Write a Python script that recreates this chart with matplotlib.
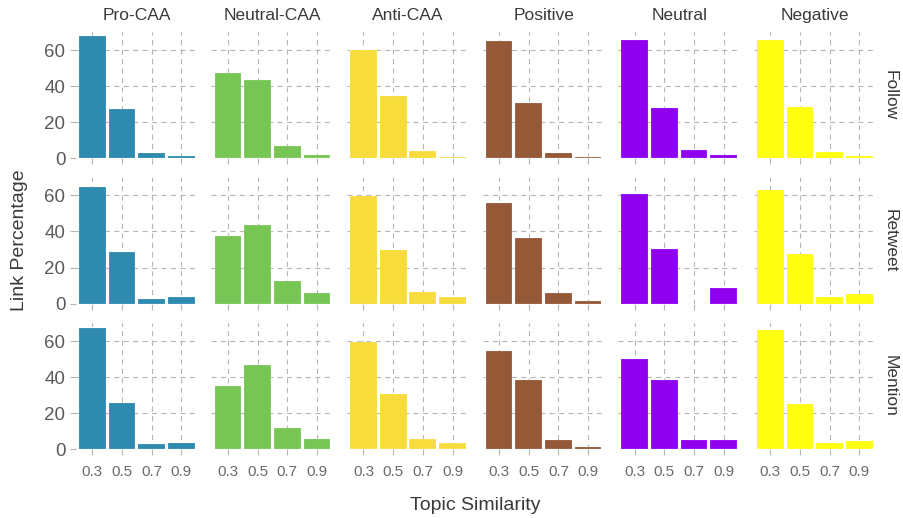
import matplotlib
matplotlib.use("Agg")
import matplotlib.pyplot as plt
import numpy as np

categories = ['Pro-CAA', 'Neutral-CAA', 'Anti-CAA', 'Positive', 'Neutral', 'Negative']
link_types = ['Follow', 'Retweet', 'Mention']
similarity_labels = ['0.3', '0.5', '0.7', '0.9']
colors = ['#2E8AAE', '#77C655', '#F7DC3B', '#955938', '#8F00EF', '#FFFD10']

follow = [
    [68.0, 27.3, 3.1, 1.3],
    [47.4, 43.4, 6.8, 1.8],
    [60.2, 34.5, 4.2, 0.8],
    [65.0, 30.8, 2.9, 0.8],
    [65.5, 28.0, 4.4, 1.8],
    [65.7, 28.6, 3.7, 1.4],
]
retweet = [
    [64.8, 28.5, 2.8, 3.7],
    [37.4, 43.7, 12.4, 5.9],
    [59.6, 29.8, 6.3, 3.9],
    [55.7, 36.5, 5.7, 1.3],
    [60.7, 30.2, 0.0, 8.7],
    [63.1, 27.4, 3.7, 5.2],
]
mention = [
    [67.4, 25.9, 2.8, 3.3],
    [35.2, 46.9, 11.7, 5.7],
    [59.4, 30.7, 5.7, 3.5],
    [54.6, 38.5, 5.2, 1.1],
    [50.0, 38.7, 5.4, 5.4],
    [66.1, 25.2, 3.5, 4.4],
]
data = [follow, retweet, mention]

plt.rcParams['font.family'] = ['Liberation Sans', 'DejaVu Sans']

W, H = 904, 518
fig = plt.figure(figsize=(W / 100, H / 100), dpi=100)
fig.patch.set_facecolor('white')

left0 = 75.8
pw = 122.0
step = 135.6
row_tops = [32.0, 177.3, 323.3]
row_bots = [158.3, 303.7, 449.3]

grid_kw = dict(color='#B5B5B5', linewidth=0.8, linestyle=(0, (4.5, 4)))
x = np.arange(len(similarity_labels))

for r in range(3):
    for c in range(6):
        ax = fig.add_axes([(left0 + c * step) / W, 1 - row_bots[r] / H,
                           pw / W, (row_bots[r] - row_tops[r]) / H])
        ax.set_axisbelow(True)
        ax.bar(x, data[r][c], width=0.9, color=colors[c],
               edgecolor=(1, 1, 1, 0.4), linewidth=0.3)
        ax.set_xlim(-0.556, 3.556)
        ax.set_ylim(0, 70)
        ax.set_xticks(x)
        ax.set_yticks([0, 20, 40, 60])
        ax.grid(True, **grid_kw)
        for s in ax.spines.values():
            s.set_visible(False)
        ax.tick_params(axis='both', color='#B5B5B5', length=4.5, width=0.8)
        if r == 2:
            ax.set_xticklabels(similarity_labels, fontsize=11, color='#6A6A6A')
            ax.tick_params(axis='x', pad=7)
        else:
            ax.set_xticklabels([])
        if c == 0:
            ax.set_yticklabels(['0', '20', '40', '60'], fontsize=13.5, color='#5A5A5A')
            ax.tick_params(axis='y', pad=3)
        else:
            ax.tick_params(axis='y', length=0)
            ax.set_yticklabels([])
        if r == 0:
            ax.set_title(categories[c], fontsize=12.5, color='#3A3A3A', pad=9)
        if c == 5:
            ax.text(1.115, 0.5, link_types[r], transform=ax.transAxes,
                    rotation=-90, ha='center', va='center', fontsize=12.5,
                    color='#3A3A3A')

fig.text(20 / W, 1 - 240 / H, 'Link Percentage', rotation=90, ha='center',
         va='center', fontsize=14, color='#3A3A3A')
fig.text(475 / W, 1 - 505 / H, 'Topic Similarity', ha='center', va='center',
         fontsize=14, color='#3A3A3A')

fig.savefig('out.png', dpi=100, facecolor='white')
